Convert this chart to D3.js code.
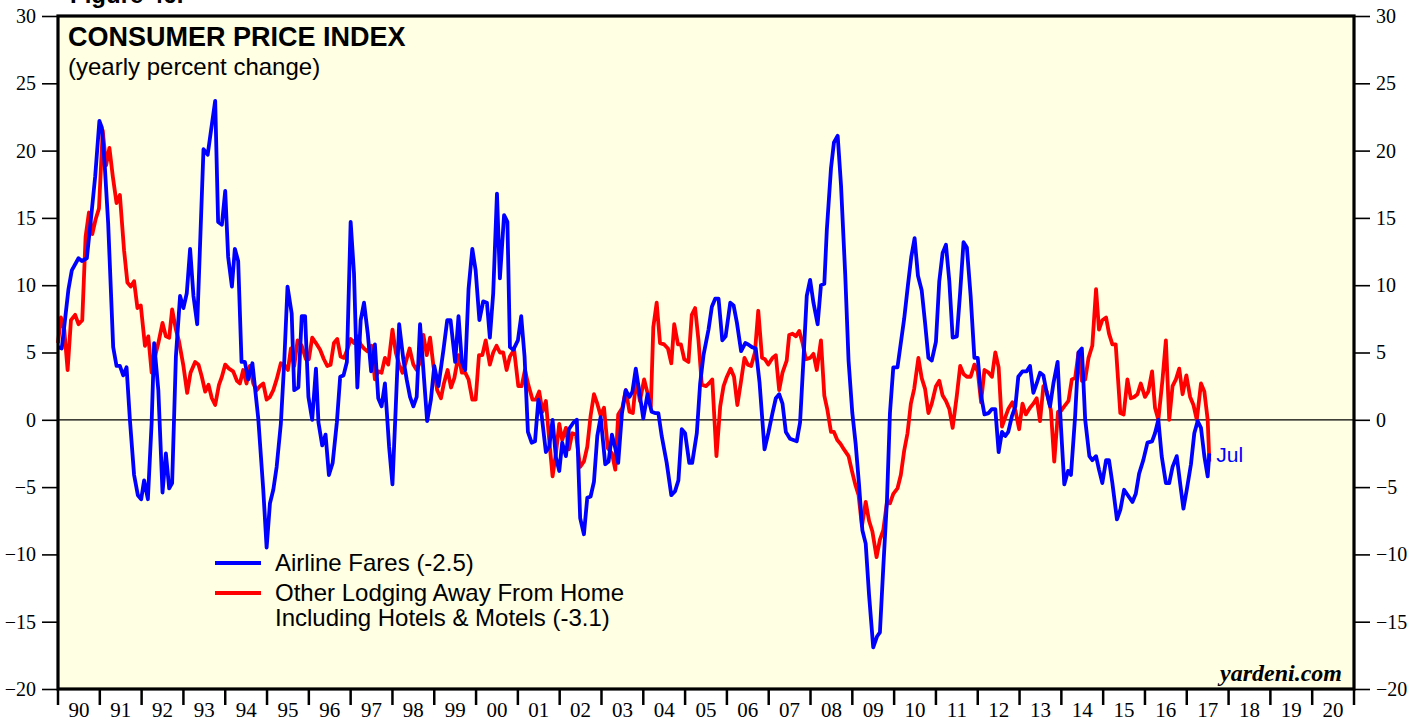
<!DOCTYPE html>
<meta charset="UTF-8">
<html>
<head>
<script src="https://d3js.org/d3.v7.min.js"></script>
<style>
  body { margin: 0; background: #fff; }
  svg { display: block; }
  .sans { font-family: "Liberation Sans", Arial, Helvetica, sans-serif; fill: #000; }
</style>
</head>
<body>
<div id="chart"></div>
<script>

// Airline fares, yearly % change
var airlineDates = [
  1990.00,1990.09,1990.25,1990.33,1990.49,1990.57,1990.69,1990.81,1990.89,1990.99,
  1991.05,1991.12,1991.20,1991.32,1991.40,1991.48,1991.56,1991.64,1991.72,1991.82,1991.91,1991.99,
  1992.06,1992.15,1992.24,1992.30,1992.40,1992.50,1992.58,1992.66,1992.73,1992.82,1992.92,
  1993.00,1993.08,1993.16,1993.24,1993.33,1993.48,1993.58,1993.66,1993.76,1993.83,1993.92,
  1994.00,1994.07,1994.16,1994.23,1994.31,1994.39,1994.47,1994.55,1994.65,1994.79,1994.91,1994.99,
  1995.07,1995.15,1995.23,1995.33,1995.41,1995.49,1995.59,1995.65,1995.75,1995.83,1995.91,1995.99,
  1996.08,1996.17,1996.23,1996.32,1996.40,1996.48,1996.57,1996.67,1996.75,1996.83,1996.91,
  1997.00,1997.08,1997.16,1997.24,1997.32,1997.41,1997.49,1997.58,1997.66,1997.74,1997.82,1997.92,
  1998.00,1998.08,1998.16,1998.26,1998.34,1998.42,1998.50,1998.58,1998.66,1998.74,1998.83,1998.92,
  1999.00,1999.10,1999.22,1999.31,1999.39,1999.50,1999.58,1999.66,1999.74,1999.82,1999.91,1999.99,
  2000.08,2000.17,2000.26,2000.33,2000.41,2000.50,2000.57,2000.67,2000.75,2000.81,2000.89,
  2001.00,2001.08,2001.16,2001.24,2001.33,2001.41,2001.49,2001.57,2001.67,2001.75,2001.83,2001.91,2001.99,
  2002.06,2002.15,2002.22,2002.33,2002.41,2002.49,2002.58,2002.66,2002.74,2002.82,2002.90,2002.98,
  2003.09,2003.17,2003.25,2003.33,2003.40,2003.49,2003.58,2003.67,2003.74,2003.82,2003.90,
  2004.00,2004.10,2004.20,2004.28,2004.36,2004.44,2004.56,2004.67,2004.76,2004.84,2004.92,
  2005.00,2005.10,2005.17,2005.28,2005.36,2005.44,2005.56,2005.64,2005.72,2005.80,2005.89,2005.97,
  2006.08,2006.16,2006.24,2006.34,2006.44,2006.51,2006.60,2006.69,2006.78,2006.90,2006.99,
  2007.09,2007.17,2007.25,2007.33,2007.41,2007.51,2007.59,2007.67,2007.75,2007.83,2007.91,2007.99,
  2008.07,2008.17,2008.25,2008.33,2008.39,2008.49,2008.56,2008.65,2008.73,2008.83,2008.91,
  2009.00,2009.08,2009.16,2009.24,2009.32,2009.40,2009.50,2009.59,2009.66,2009.74,2009.83,2009.90,2009.98,
  2010.08,2010.16,2010.24,2010.33,2010.41,2010.49,2010.57,2010.66,2010.74,2010.82,2010.90,
  2011.00,2011.08,2011.16,2011.24,2011.32,2011.40,2011.50,2011.58,2011.66,2011.74,2011.83,2011.92,
  2012.00,2012.08,2012.16,2012.26,2012.34,2012.42,2012.50,2012.58,2012.66,2012.73,2012.82,2012.90,2012.97,
  2013.07,2013.17,2013.25,2013.33,2013.41,2013.49,2013.57,2013.65,2013.73,2013.81,2013.91,2013.99,
  2014.07,2014.16,2014.23,2014.33,2014.41,2014.49,2014.57,2014.67,2014.74,2014.83,2014.90,2014.98,
  2015.07,2015.14,2015.22,2015.33,2015.41,2015.50,2015.61,2015.70,2015.78,2015.86,2015.96,
  2016.06,2016.17,2016.24,2016.32,2016.40,2016.50,2016.58,2016.66,2016.76,2016.84,2016.92,
  2017.00,2017.10,2017.18,2017.26,2017.34,2017.42,2017.50,2017.54
];
var airlineValues = [
  5.4,5.3,9.7,11.1,12.0,11.8,12.0,15.6,18.1,22.2,
  21.7,18.8,14.6,5.4,4.0,4.0,3.3,3.9,0.0,-4.1,-5.6,-5.9,
  -4.5,-5.9,-0.2,5.7,2.2,-5.4,-2.5,-5.1,-4.7,4.7,9.2,
  8.3,9.4,12.7,9.2,7.1,20.1,19.7,21.5,23.7,14.7,14.5,
  17.0,12.1,9.9,12.7,11.8,4.3,4.3,3.0,4.2,0.1,-5.2,-9.5,
  -6.2,-5.2,-3.5,-0.3,4.2,9.9,7.9,2.2,2.4,7.7,7.7,1.7,
  0.0,3.8,-0.2,-1.9,-1.1,-4.1,-3.2,-0.2,3.2,3.3,4.3,
  14.7,10.9,2.4,7.4,8.7,6.4,3.6,5.6,1.6,1.0,2.7,-2.0,
  -4.8,1.0,7.1,4.5,3.0,1.7,1.0,1.7,7.1,3.7,-0.1,1.5,
  4.0,2.5,5.2,7.4,7.4,4.3,7.7,4.3,3.7,9.7,12.7,11.1,
  7.4,8.8,8.7,6.1,9.4,16.8,10.5,15.2,14.7,5.4,5.2,
  5.9,7.7,4.7,-0.9,-1.7,-1.6,1.5,0.3,-2.4,-2.0,0.0,-2.8,-3.8,
  -1.7,-2.7,-0.7,-0.2,0.0,-7.3,-8.5,-5.8,-5.7,-4.6,-1.2,0.2,
  -3.3,-3.1,-1.1,-2.1,-3.2,0.5,2.2,1.7,2.1,3.8,2.2,
  0.1,1.9,0.6,0.5,0.5,-1.2,-3.2,-5.6,-5.3,-4.5,-0.7,
  -1.0,-3.2,-3.2,-1.0,2.7,4.8,6.7,8.4,9.0,9.0,5.9,6.2,
  8.7,8.5,7.2,5.1,5.7,5.6,5.4,5.3,2.8,-2.2,-1.0,
  0.5,1.6,1.9,1.2,-0.9,-1.4,-1.5,-1.6,-0.2,4.4,9.2,10.4,
  8.7,7.1,10.0,10.1,14.1,18.7,20.6,21.1,17.4,10.8,4.4,
  0.5,-1.8,-4.8,-8.2,-9.2,-13.0,-16.9,-16.1,-15.8,-11.0,-5.9,0.5,3.9,
  3.9,5.7,7.5,10.0,12.1,13.5,10.7,9.6,7.2,4.6,4.4,
  5.8,10.3,12.4,13.0,10.3,6.1,6.2,9.5,13.2,12.8,9.2,4.6,
  4.6,1.8,0.4,0.5,0.8,0.8,-2.4,-0.9,-1.2,-0.9,0.3,1.0,3.2,
  3.6,3.6,4.0,2.0,2.7,3.5,3.3,2.0,1.0,2.7,4.3,-0.5,
  -4.8,-3.8,-4.1,0.3,5.0,5.3,0.0,-2.7,-3.0,-2.7,-3.7,-4.7,
  -3.0,-3.0,-4.7,-7.4,-6.7,-5.2,-5.7,-6.1,-5.5,-4.0,-3.0,
  -1.7,-1.6,-1.0,0.0,-2.7,-4.7,-4.7,-3.5,-2.7,-4.7,-6.6,
  -5.2,-3.3,-1.0,-0.1,-0.6,-2.7,-4.2,-2.5
];

// Other lodging away from home incl. hotels & motels, yearly % change
var lodgingDates = [
  1990.00,1990.07,1990.15,1990.23,1990.31,1990.41,1990.49,1990.58,1990.66,1990.74,1990.82,1990.90,1990.98,
  1991.07,1991.15,1991.23,1991.31,1991.40,1991.48,1991.58,1991.66,1991.74,1991.82,1991.90,1991.98,
  1992.08,1992.16,1992.24,1992.32,1992.40,1992.50,1992.58,1992.66,1992.73,1992.82,1992.89,
  1993.00,1993.09,1993.17,1993.28,1993.36,1993.44,1993.52,1993.60,1993.68,1993.76,1993.85,1993.92,
  1994.00,1994.09,1994.19,1994.28,1994.35,1994.43,1994.51,1994.59,1994.67,1994.75,1994.83,1994.91,1994.99,
  1995.07,1995.15,1995.23,1995.33,1995.41,1995.50,1995.57,1995.65,1995.73,1995.83,1995.93,
  1996.00,1996.08,1996.17,1996.27,1996.36,1996.44,1996.52,1996.60,1996.68,1996.76,1996.84,1996.92,
  1997.00,1997.08,1997.16,1997.24,1997.32,1997.40,1997.50,1997.58,1997.66,1997.74,1997.82,1997.90,
  1998.00,1998.08,1998.16,1998.24,1998.32,1998.41,1998.50,1998.58,1998.66,1998.74,1998.82,1998.90,1998.98,
  1999.07,1999.16,1999.23,1999.32,1999.40,1999.48,1999.58,1999.66,1999.74,1999.82,1999.91,1999.99,
  2000.07,2000.15,2000.23,2000.33,2000.41,2000.49,2000.57,2000.65,2000.73,2000.81,2000.91,
  2001.01,2001.09,2001.17,2001.25,2001.35,2001.43,2001.51,2001.59,2001.67,2001.75,2001.83,2001.91,2001.99,
  2002.06,2002.15,2002.22,2002.30,2002.39,2002.49,2002.58,2002.66,2002.74,2002.82,2002.90,2002.98,
  2003.06,2003.15,2003.25,2003.33,2003.40,2003.50,2003.58,2003.67,2003.75,2003.83,2003.92,
  2004.02,2004.10,2004.18,2004.24,2004.32,2004.40,2004.50,2004.59,2004.67,2004.74,2004.83,2004.90,2004.98,
  2005.08,2005.16,2005.24,2005.32,2005.40,2005.50,2005.57,2005.65,2005.75,2005.84,2005.92,
  2006.00,2006.09,2006.17,2006.25,2006.33,2006.42,2006.50,2006.58,2006.67,2006.75,2006.84,2006.91,2006.99,
  2007.09,2007.17,2007.25,2007.33,2007.43,2007.49,2007.57,2007.65,2007.73,2007.81,2007.89,2007.99,
  2008.07,2008.15,2008.25,2008.33,2008.40,2008.49,2008.56,2008.64,2008.72,2008.80,2008.91,2008.99,
  2009.07,2009.15,2009.23,2009.32,2009.40,2009.48,2009.58,2009.66,2009.74,2009.83,2009.90,2009.98,
  2010.08,2010.16,2010.24,2010.32,2010.40,2010.48,2010.58,2010.66,2010.74,2010.82,2010.90,
  2011.00,2011.08,2011.16,2011.24,2011.32,2011.40,2011.50,2011.58,2011.66,2011.74,2011.83,2011.92,
  2012.00,2012.08,2012.16,2012.26,2012.34,2012.42,2012.50,2012.58,2012.66,2012.73,2012.83,2012.90,2012.99,
  2013.07,2013.15,2013.25,2013.33,2013.41,2013.49,2013.57,2013.65,2013.75,2013.83,2013.92,
  2014.00,2014.07,2014.17,2014.25,2014.33,2014.41,2014.49,2014.57,2014.65,2014.74,2014.83,2014.90,2014.98,
  2015.07,2015.14,2015.22,2015.30,2015.41,2015.49,2015.58,2015.66,2015.74,2015.82,2015.90,
  2016.00,2016.08,2016.17,2016.24,2016.32,2016.42,2016.50,2016.58,2016.66,2016.74,2016.82,2016.90,2016.99,
  2017.08,2017.16,2017.24,2017.34,2017.42,2017.50,2017.54
];
var lodgingValues = [
  5.7,7.6,6.7,3.7,7.4,7.8,7.1,7.4,13.6,15.4,13.8,14.9,15.7,
  21.5,18.9,20.2,18.1,16.1,16.7,12.6,10.2,9.9,10.3,8.3,8.5,
  5.5,6.2,3.5,4.7,5.7,7.2,6.2,6.1,8.2,6.7,5.9,
  4.0,2.0,3.5,4.3,4.1,3.2,2.1,2.6,1.6,1.1,2.6,3.2,
  4.1,3.8,3.6,2.9,2.7,3.7,2.7,4.0,2.7,2.2,2.5,2.7,1.5,
  1.7,2.2,3.0,4.2,4.1,3.7,5.3,4.0,5.9,5.5,4.5,
  4.5,6.1,5.7,5.2,4.5,4.0,4.1,5.7,6.0,4.7,4.6,5.2,
  6.0,5.7,6.2,5.6,5.3,5.1,5.5,3.0,3.6,3.5,4.6,4.1,
  6.7,5.0,4.1,3.5,4.3,5.3,4.1,3.7,4.3,6.3,4.8,6.1,4.0,
  2.2,1.6,2.7,3.7,2.4,3.1,4.8,3.5,3.5,3.0,1.5,1.5,
  4.8,4.8,5.9,4.1,5.0,5.5,5.0,5.0,3.7,4.7,5.2,
  2.5,2.5,3.7,2.6,1.5,1.5,2.1,0.6,1.4,-1.5,-4.2,-2.5,-0.3,
  -1.5,-0.6,-2.2,-1.0,-1.1,-3.5,-3.1,-2.0,0.3,1.9,1.2,0.3,
  0.9,-2.1,-2.5,-3.7,0.4,0.9,2.2,0.6,0.5,3.0,1.4,
  3.0,2.0,1.0,6.9,8.7,5.7,5.6,5.3,4.2,7.1,5.6,5.6,4.5,
  4.3,7.8,8.3,5.9,2.6,2.5,2.7,3.0,-2.7,1.0,2.5,
  3.2,3.8,3.2,1.1,2.7,4.6,4.1,4.0,5.0,8.1,4.6,4.5,4.1,
  4.6,4.8,2.2,3.5,4.4,6.3,6.4,6.2,6.6,5.7,4.5,4.6,
  4.9,3.7,5.9,1.8,0.8,-0.9,-0.9,-1.5,-1.8,-2.2,-2.7,-3.8,
  -4.8,-5.6,-7.9,-6.1,-7.5,-8.3,-10.2,-8.9,-8.2,-6.1,-6.2,-5.5,
  -5.1,-4.1,-2.3,-1.0,1.2,2.3,4.6,3.1,2.3,0.5,1.2,
  2.5,2.9,1.8,1.4,0.8,-0.6,1.8,4.0,3.4,3.2,3.2,4.1,
  3.6,1.3,3.7,3.5,3.2,5.0,3.9,-0.5,0.2,0.8,1.3,0.7,-0.7,
  1.2,0.4,0.9,1.2,1.6,-0.1,2.5,2.1,0.7,-3.1,0.6,
  0.7,1.0,1.4,3.0,3.1,5.0,2.9,3.0,4.6,5.5,9.7,6.7,7.4,
  7.6,6.4,5.6,5.6,0.5,0.4,3.0,1.6,1.7,1.9,2.7,
  1.7,2.1,3.6,0.9,0.0,3.0,5.9,0.0,2.5,3.0,3.8,1.9,3.3,
  1.7,1.1,0.0,2.7,2.1,0.0,-3.1
];

var yTicks = [-20, -15, -10, -5, 0, 5, 10, 15, 20, 25, 30];
var yearLabels = ["90","91","92","93","94","95","96","97","98","99","00","01","02","03","04","05",
                  "06","07","08","09","10","11","12","13","14","15","16","17","18","19","20"];

var W = 1421, H = 721;
var plot = {left: 58, right: 1354, top: 16, bottom: 689};
var serif = "'Liberation Serif', 'Times New Roman', serif";

var svg = d3.select("#chart").append("svg")
    .attr("width", W)
    .attr("height", H);

var x = d3.scaleLinear().domain([1990, 2021]).range([plot.left, plot.right]);
var y = d3.scaleLinear().domain([-20, 30]).range([plot.bottom, plot.top]);

// cut-off figure caption at the very top
svg.append("text")
    .attr("class", "sans")
    .attr("x", 70).attr("y", 3)
    .style("font-size", "24px").style("font-weight", "bold")
    .text("Figure 46.");

// plot background
svg.append("rect")
    .attr("x", plot.left).attr("y", plot.top)
    .attr("width", plot.right - plot.left)
    .attr("height", plot.bottom - plot.top)
    .attr("fill", "#ffffe3");

// left / right axes
var leftAxis = d3.axisLeft(y).tickValues(yTicks).tickSize(16).tickPadding(6);
var rightAxis = d3.axisRight(y).tickValues(yTicks).tickSize(16).tickPadding(6);

var gl = svg.append("g").attr("transform", "translate(" + plot.left + ",0)").call(leftAxis);
var gr = svg.append("g").attr("transform", "translate(" + plot.right + ",0)").call(rightAxis);
[gl, gr].forEach(function(g) {
  g.attr("font-family", serif).attr("font-size", 20);
  g.select(".domain").remove();
  g.selectAll("line").attr("stroke", "#000").attr("stroke-width", 1.6);
  g.selectAll("text").attr("fill", "#000");
});

// bottom axis: ticks at year boundaries, labels centered in each year
var yearStarts = d3.range(1990, 2022);
var gb = svg.append("g")
    .attr("font-family", serif)
    .attr("font-size", 21);
gb.selectAll("line.tick")
    .data(yearStarts)
  .enter().append("line")
    .attr("x1", function(d) { return x(d); })
    .attr("x2", function(d) { return x(d); })
    .attr("y1", plot.bottom)
    .attr("y2", plot.bottom + 16)
    .attr("stroke", "#000")
    .attr("stroke-width", 2.5);
gb.selectAll("text")
    .data(yearLabels)
  .enter().append("text")
    .attr("x", function(d, i) { return x(1990 + i + 0.5); })
    .attr("y", 717)
    .attr("text-anchor", "middle")
    .attr("fill", "#000")
    .text(function(d) { return d; });

// zero line
svg.append("line")
    .attr("x1", plot.left).attr("x2", plot.right)
    .attr("y1", y(0)).attr("y2", y(0))
    .attr("stroke", "#000").attr("stroke-width", 1.3);

// series
var line = d3.line()
    .x(function(d) { return x(d[0]); })
    .y(function(d) { return y(d[1]); });

var lodging = d3.zip(lodgingDates, lodgingValues);
var airline = d3.zip(airlineDates, airlineValues);

svg.append("path")
    .datum(lodging)
    .attr("d", line)
    .attr("fill", "none")
    .attr("stroke", "#ff0000")
    .attr("stroke-width", 3.8)
    .attr("stroke-linejoin", "round");

svg.append("path")
    .datum(airline)
    .attr("d", line)
    .attr("fill", "none")
    .attr("stroke", "#0000ff")
    .attr("stroke-width", 3.8)
    .attr("stroke-linejoin", "round");

// "Jul" tag at last point
svg.append("text")
    .attr("x", x(airlineDates[airlineDates.length - 1]) + 7)
    .attr("y", 462)
    .style("font-family", "'Liberation Sans', Arial, sans-serif")
    .style("font-size", "21px")
    .style("fill", "#0000ff")
    .text("Jul");

// frame
svg.append("rect")
    .attr("x", plot.left).attr("y", plot.top)
    .attr("width", plot.right - plot.left)
    .attr("height", plot.bottom - plot.top)
    .attr("fill", "none")
    .attr("stroke", "#000")
    .attr("stroke-width", 3.2);

// titles
svg.append("text")
    .attr("class", "sans")
    .attr("x", 68).attr("y", 46)
    .style("font-size", "27px").style("font-weight", "bold")
    .text("CONSUMER PRICE INDEX");
svg.append("text")
    .attr("class", "sans")
    .attr("x", 68).attr("y", 75)
    .style("font-size", "24px")
    .text("(yearly percent change)");

// legend
var legend = [
  {color: "#0000ff", lines: ["Airline Fares (-2.5)"], y: 563},
  {color: "#ff0000", lines: ["Other Lodging Away From Home", "Including Hotels & Motels (-3.1)"], y: 593}
];
legend.forEach(function(l) {
  svg.append("line")
      .attr("x1", 215).attr("x2", 261)
      .attr("y1", l.y).attr("y2", l.y)
      .attr("stroke", l.color).attr("stroke-width", 3.8);
  l.lines.forEach(function(t, i) {
    svg.append("text")
        .attr("class", "sans")
        .attr("x", 275).attr("y", l.y + 8 + i * 25)
        .style("font-size", "24px")
        .text(t);
  });
});

// source
svg.append("text")
    .attr("x", 1342).attr("y", 681)
    .attr("text-anchor", "end")
    .style("font", "italic bold 24px " + serif)
    .text("yardeni.com");

</script>
</body>
</html>
